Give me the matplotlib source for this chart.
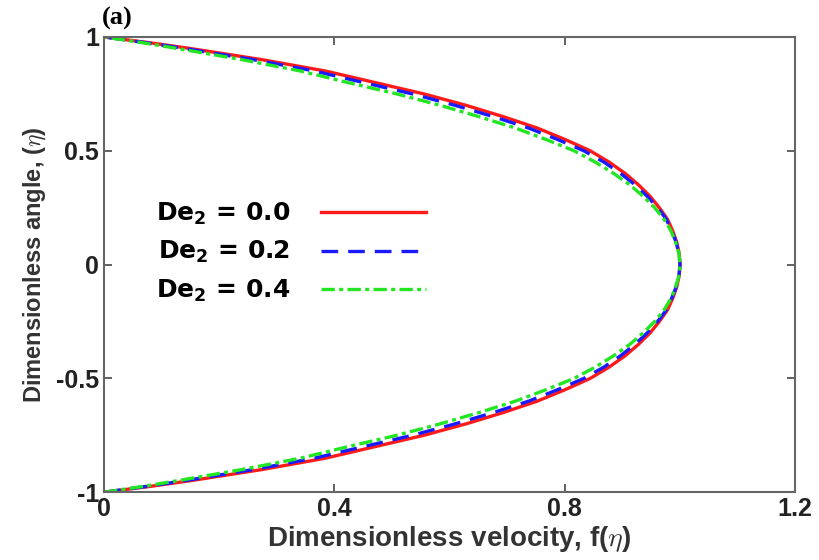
import numpy as np
import matplotlib
matplotlib.use('Agg')
from matplotlib import pyplot as plt

# eta (upper half, mirrored for the lower half) and velocity profiles
eta_half = [0.0, 0.05, 0.1, 0.15, 0.2, 0.25, 0.3, 0.35, 0.4, 0.45, 0.5, 0.55, 0.6, 0.65,
            0.7, 0.75, 0.8, 0.85, 0.9, 0.95, 0.975, 1.0]
f_de00 = [1.000, 0.9985, 0.994, 0.987, 0.978, 0.964, 0.948, 0.928, 0.905, 0.877, 0.844, 0.800,
          0.752, 0.693, 0.628, 0.555, 0.470, 0.385, 0.275, 0.148, 0.078, 0.0]
f_de02 = [1.000, 0.998, 0.993, 0.985, 0.976, 0.961, 0.943, 0.922, 0.897, 0.868, 0.833, 0.787,
          0.737, 0.676, 0.609, 0.535, 0.450, 0.366, 0.260, 0.138, 0.072, 0.0]
f_de04 = [1.000, 0.998, 0.992, 0.984, 0.972, 0.956, 0.936, 0.913, 0.885, 0.853, 0.816, 0.767,
          0.714, 0.651, 0.583, 0.508, 0.423, 0.342, 0.240, 0.126, 0.066, 0.0]
labels = ['De$_\\mathbf{2}$ = 0.0', 'De$_\\mathbf{2}$ = 0.2', 'De$_\\mathbf{2}$ = 0.4']

def full(eh, fh):
    eh = np.array(eh); fh = np.array(fh)
    eta = np.concatenate([-eh[::-1], eh[1:]])
    f = np.concatenate([fh[::-1], fh[1:]])
    return f, eta

plt.rcParams['font.family'] = ['Liberation Sans', 'DejaVu Sans']
plt.rcParams['mathtext.fontset'] = 'cm'

fig = plt.figure(figsize=(8.19, 5.6), dpi=100)
ax = fig.add_axes([0.127, 0.121, 0.844, 0.813])

styles = [dict(color='#ff1a1a', ls='-', lw=2.4),
          dict(color='#1a1aff', ls=(0, (5, 3)), lw=2.4),
          dict(color='#22e622', ls=(0, (4, 1.3, 1.2, 1.3)), lw=2.4)]
for fh, lab, st in zip([f_de00, f_de02, f_de04], labels, styles):
    f, eta = full(eta_half, fh)
    ax.plot(f, eta, label=lab, **st)

ax.set_xlim(0, 1.2)
ax.set_ylim(-1, 1)
ax.set_xticks([0, 0.4, 0.8, 1.2])
ax.set_xticklabels(['0', '0.4', '0.8', '1.2'])
ax.set_yticks([-1, -0.5, 0, 0.5, 1])
ax.set_yticklabels(['-1', '-0.5', '0', '0.5', '1'])
ax.tick_params(direction='in', top=True, right=True, length=6, width=1.3,
               colors='#555555', labelcolor='#222222', labelsize=18)
for lb in ax.get_xticklabels() + ax.get_yticklabels():
    lb.set_fontweight('bold')
for sp in ax.spines.values():
    sp.set_color('#666666')
    sp.set_linewidth(1.5)

ax.set_xlabel('Dimensionless velocity, f($\\eta$)', fontsize=20, fontweight='bold',
              color='#333333', labelpad=2)
ax.set_ylabel('Dimensionless angle, ($\\eta$)', fontsize=17, fontweight='bold',
              color='#333333', labelpad=6)

fig.text(0.124, 0.956, '(a)', fontsize=19, fontweight='bold', family='Liberation Serif')

leg = ax.legend(loc='upper left', bbox_to_anchor=(0.043, 0.69), frameon=False,
                markerfirst=False, handlelength=4.2, handletextpad=1.2,
                labelspacing=0.5,
                prop={'family': 'DejaVu Sans', 'weight': 'bold', 'size': 18,
                      'math_fontfamily': 'dejavusans'})

plt.savefig('out.png', dpi=100)
